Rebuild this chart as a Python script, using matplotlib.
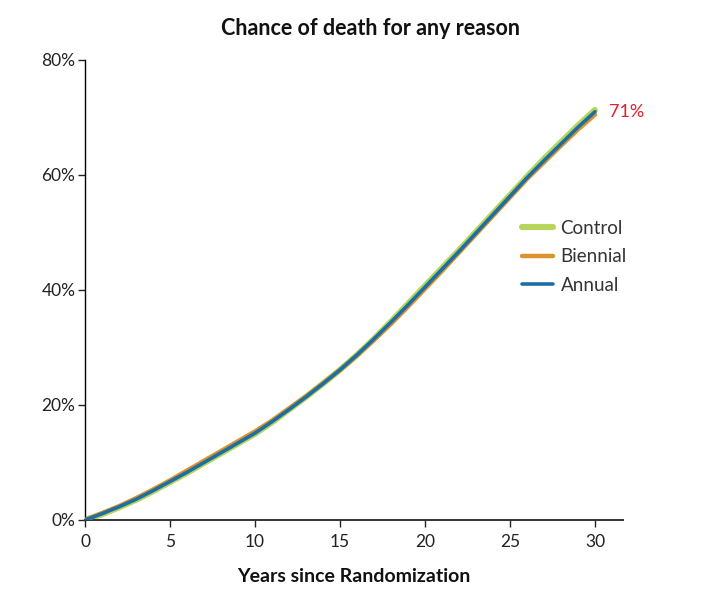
import matplotlib
matplotlib.use("Agg")
import matplotlib.pyplot as plt
from matplotlib.ticker import FuncFormatter

# cumulative chance of death (%)
years = list(range(0, 31))
annual = [0.0, 1.1, 2.3, 3.6, 5.1, 6.7, 8.3, 10.0, 11.7, 13.4, 15.1,
          17.1, 19.2, 21.4, 23.7, 26.1, 28.7, 31.5, 34.4, 37.4, 40.5,
          43.6, 46.7, 49.9, 53.1, 56.3, 59.5, 62.5, 65.4, 68.3, 71.0]
biennial = [0.0, 1.2, 2.4, 3.8, 5.3, 6.9, 8.6, 10.3, 12.0, 13.7, 15.4,
            17.3, 19.4, 21.5, 23.8, 26.1, 28.6, 31.3, 34.1, 37.1, 40.2,
            43.3, 46.5, 49.7, 52.9, 56.1, 59.3, 62.2, 65.1, 67.9, 70.5]
control = [0.0, 1.0, 2.2, 3.5, 5.0, 6.6, 8.2, 9.9, 11.6, 13.3, 15.0,
           17.0, 19.2, 21.4, 23.7, 26.1, 28.7, 31.5, 34.5, 37.6, 40.7,
           43.8, 46.9, 50.1, 53.3, 56.5, 59.7, 62.8, 65.7, 68.6, 71.3]
end_label = "71%"

plt.rcParams['font.family'] = ['Lato', 'DejaVu Sans']

fig = plt.figure(figsize=(7.01, 5.97), dpi=100)
ax = fig.add_axes([0.1213, 0.129, 0.7674, 0.7705])

ax.plot(years, control, color="#b5d65a", linewidth=4.4, label="Control",
        solid_capstyle="round", zorder=2)
ax.plot(years, biennial, color="#df922b", linewidth=3.2, label="Biennial",
        solid_capstyle="round", zorder=3)
ax.plot(years, annual, color="#1e6ea6", linewidth=2.6, label="Annual",
        solid_capstyle="round", zorder=4)

ax.text(30.8, 71.0, end_label, color="#e0202a", fontsize=13,
        va="center", ha="left")

ax.set_xlim(0, 31.65)
ax.set_ylim(0, 80)
ax.set_xticks([0, 5, 10, 15, 20, 25, 30])
ax.set_yticks([0, 20, 40, 60, 80])
ax.yaxis.set_major_formatter(FuncFormatter(lambda v, p: "%d%%" % v))

for s in ["top", "right"]:
    ax.spines[s].set_visible(False)
ax.spines["left"].set_linewidth(1.0)
ax.spines["bottom"].set_linewidth(1.4)
ax.spines["bottom"].set_color("#333333")
ax.tick_params(axis="both", direction="out", length=5, width=1.0,
               labelsize=12.5, colors="#222222")
ax.tick_params(axis="x", pad=5)
ax.tick_params(axis="y", pad=2)

ax.set_xlabel("Years since Randomization", fontsize=14, fontweight="bold",
              labelpad=13, color="#111111")
fig.text(0.528, 0.953, "Chance of death for any reason", fontsize=15.5,
         fontweight="bold", ha="center", va="center", color="#111111")

leg = ax.legend(loc="upper left", bbox_to_anchor=(0.734, 0.644),
                bbox_transform=fig.transFigure, frameon=False,
                fontsize=13.5, handlelength=1.65, handletextpad=0.4,
                labelspacing=0.6, borderaxespad=0)
for t in leg.get_texts():
    t.set_color("#333333")

fig.savefig("out.png", dpi=100)
